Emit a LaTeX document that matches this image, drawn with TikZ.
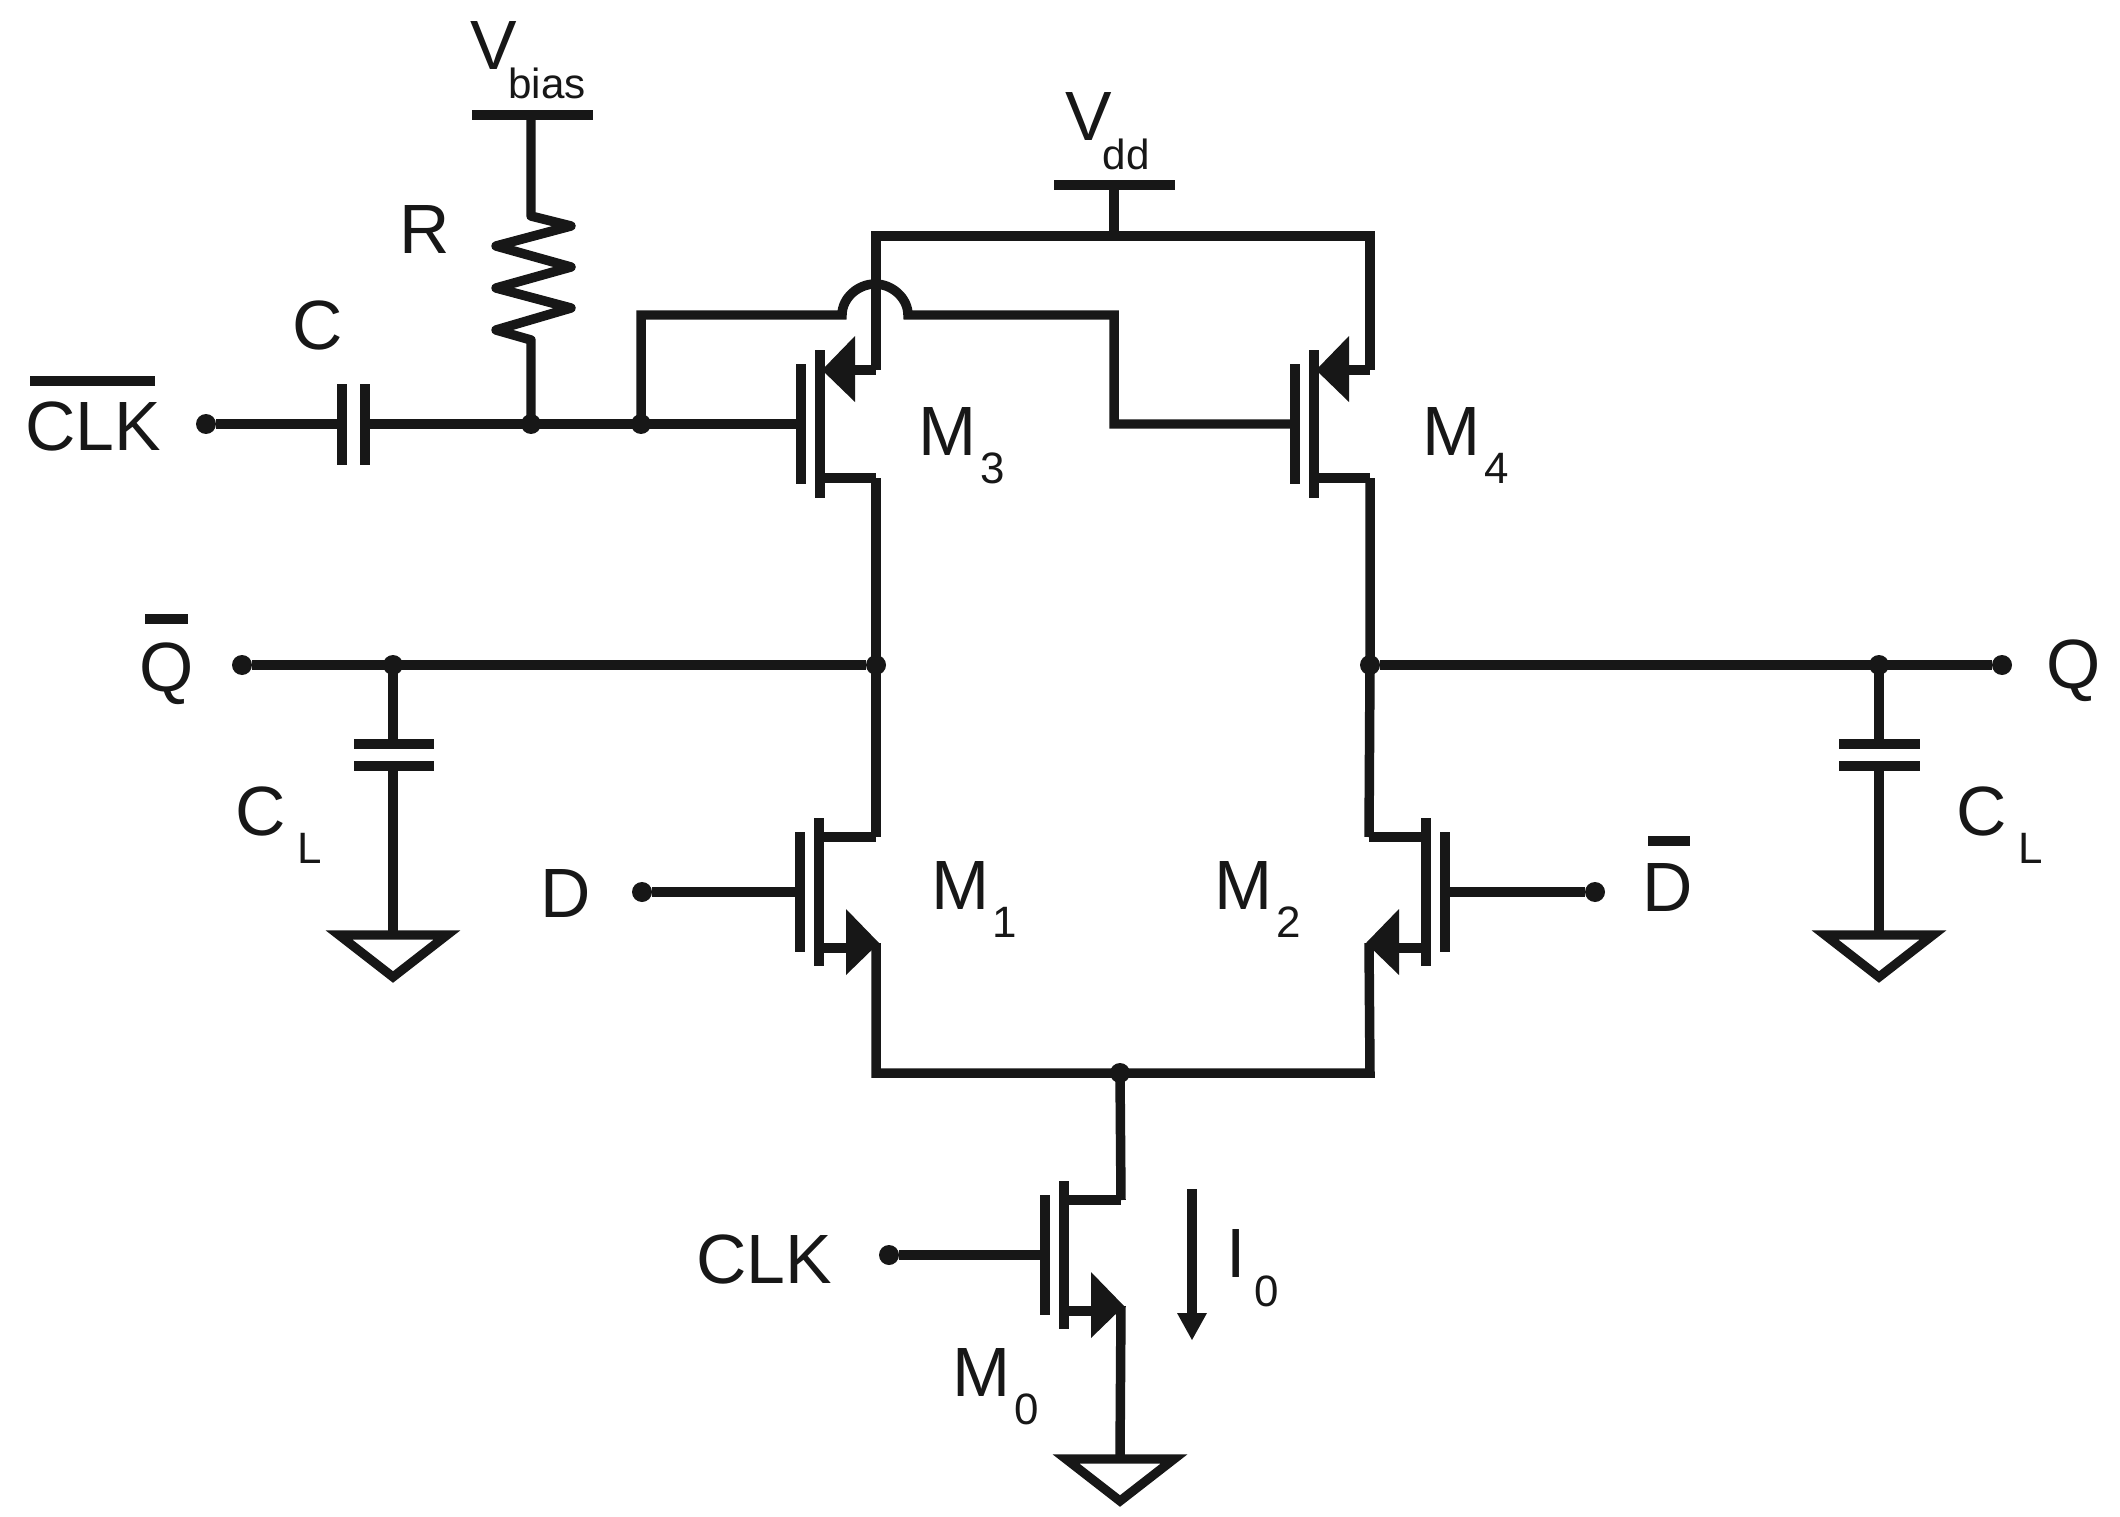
\documentclass[tikz,border=0pt]{standalone}
\usepackage{fontspec}
\setmainfont{Liberation Sans}
\definecolor{ink}{gray}{0.09}
\newcommand{\mainsz}{\fontsize{39.7pt}{44pt}\selectfont}
\newcommand{\lowlab}[4]{#1\kern#3\lower#4\hbox{\fontsize{25pt}{28pt}\selectfont #2}}
\newcommand{\suplab}[3]{#1\kern#3\lower16.4pt\hbox{\fontsize{24pt}{27pt}\selectfont #2}}
\tikzset{
  wire/.style={draw=ink,line width=5.4pt,line join=miter},
  bar/.style={draw=ink,line width=5.4pt},
  plate/.style={draw=ink,line width=5.2pt},
  lab/.style={inner sep=0pt,text=ink,font=\mainsz,anchor=base},
  labw/.style={inner sep=0pt,text=ink,font=\mainsz,anchor=base west},
  dot/.style={circle,fill=ink,draw=none,minimum size=0.4cm,inner sep=0pt,outer sep=0pt},
  head/.style={fill=ink,draw=none},
  pmos/.pic={
    \coordinate (-g) at (-19,0);
    \coordinate (-s) at (56,-54);
    \coordinate (-d) at (56,54);
    \draw[plate] (-19,-60) -- (-19,60);
    \draw[plate] (0,-74) -- (0,74);
    \draw[wire] (0,54) -- (-d);
    \draw[wire] (30,-54) -- (-s);
    \fill[head] (2,-54) -- (35,-88) -- (35,-22) -- cycle;
  },
  nmos/.pic={
    \coordinate (-g) at (-19,0);
    \coordinate (-d) at (57,-55);
    \coordinate (-s) at (57,51);
    \draw[plate] (-19,-60) -- (-19,60);
    \draw[plate] (0,-74) -- (0,74);
    \draw[wire] (0,-55) -- (-d);
    \draw[wire] (0,56) -- (30,56);
    \fill[head] (60,51) -- (27,17) -- (27,83) -- cycle;
  },
  gnd/.pic={
    \coordinate (-t) at (0,0);
    \draw[draw=ink,line width=5.2pt,line join=miter] (-54,3) -- (54,3) -- (0,45) -- cycle;
  }
}
\begin{document}
\begin{tikzpicture}[x=0.02cm,y=-0.02cm]
\useasboundingbox (0,0) rectangle (2120,1517);
\fill[white] (0,0) rectangle (2120,1517);

% transistors
\pic (m3) at (820,424) {pmos};
\pic (m4) at (1314,424) {pmos};
\pic (m1) at (819,892) {nmos};
\pic[xscale=-1] (m2) at (1426,892) {nmos};
\pic (m0) at (1064,1255) {nmos};

% grounds
\pic (g1) at (393,932) {gnd};
\pic (g2) at (1879,932) {gnd};
\pic (g0) at (1120,1456) {gnd};

% junction and terminal dots
\node[dot] (clkbin) at (206,424) {};
\node[dot] (nr) at (531,424) {};
\node[dot] (nfb) at (641,424) {};
\node[dot] (qbin) at (242,665) {};
\node[dot] (ncl) at (393,665) {};
\node[dot] (nl) at (876,665) {};
\node[dot] (nrt) at (1370,665) {};
\node[dot] (ncr) at (1879,665) {};
\node[dot] (qin) at (2002,665) {};
\node[dot] (din) at (642,892) {};
\node[dot] (dbin) at (1595,892) {};
\node[dot] (ntail) at (1120,1073) {};
\node[dot] (clkin) at (889,1255) {};

% named routing points
\coordinate (vb) at (531,115);
\coordinate (vbl) at (472,115);
\coordinate (vbr) at (593,115);
\coordinate (vd) at (1114,185);
\coordinate (vdl) at (1054,185);
\coordinate (vdr) at (1175,185);
\coordinate (rl) at (876,236);
\coordinate (rm) at (1114,236);
\coordinate (rr) at (1370,236);
\coordinate (c1t) at (342,384);
\coordinate (c1b) at (342,465);
\coordinate (c2t) at (365,384);
\coordinate (c2b) at (365,465);
\coordinate (c1m) at (342,424);
\coordinate (c2m) at (365,424);
\coordinate (fb) at (641,315);
\coordinate (hl) at (842,315);
\coordinate (hr) at (908,315);
\coordinate (gb) at (1114,315);
\coordinate (gc) at (1114,424);
\coordinate (tl) at (876,1073);
\coordinate (tr) at (1370,1073);
\coordinate (lt) at (393,744);
\coordinate (lb) at (393,766);
\coordinate (ltl) at (354,744);
\coordinate (ltr) at (434,744);
\coordinate (lbl) at (354,766);
\coordinate (lbr) at (434,766);
\coordinate (rt) at (1879,744);
\coordinate (rb) at (1879,766);
\coordinate (rtl) at (1839,744);
\coordinate (rtr) at (1920,744);
\coordinate (rbl) at (1839,766);
\coordinate (rbr) at (1920,766);

% supply
\draw[bar] (vbl) -- (vbr);
\draw[bar] (vdl) -- (vdr);
\draw[wire] (vd) -- (rm);
\draw[wire] (m3-s) -- (rl) -- (rr) -- (m4-s);

% resistor
\draw[wire,line join=round] (vb) -- (531,216) -- (571,226) -- (496,246) -- (571,267) -- (496,288) -- (571,308) -- (496,330) -- (531,340) -- (nr.center);

% clock-bar input and capacitor
\draw[wire] (clkbin) -- (c1m);
\draw[plate] (c1t) -- (c1b);
\draw[plate] (c2t) -- (c2b);
\draw[wire] (c2m) -- (nr.center) -- (nfb.center) -- (m3-g);

% gate cross link with hop
\draw[wire] (nfb.center) -- (fb) -- (hl) .. controls (842,298) and (858,284) .. (875,284) .. controls (892,284) and (908,298) .. (hr) -- (gb) -- (gc) -- (m4-g);

% outputs and branches
\draw[wire] (m3-d) -- (nl.center) -- (m1-d);
\draw[wire] (m4-d) -- (nrt.center) -- (m2-d);
\draw[wire] (qbin) -- (nl);
\draw[wire] (nrt) -- (qin);
\draw[wire] (m1-s) -- (tl) -- (tr) -- (m2-s);
\draw[wire] (ntail.center) -- (m0-d);
\draw[wire] (m0-s) -- (g0-t);
\draw[wire] (din) -- (m1-g);
\draw[wire] (dbin) -- (m2-g);
\draw[wire] (clkin) -- (m0-g);

% load capacitors
\draw[wire] (ncl.center) -- (lt);
\draw[bar] (ltl) -- (ltr);
\draw[bar] (lbl) -- (lbr);
\draw[wire] (lb) -- (g1-t);
\draw[wire] (ncr.center) -- (rt);
\draw[bar] (rtl) -- (rtr);
\draw[bar] (rbl) -- (rbr);
\draw[wire] (rb) -- (g2-t);

% current arrow
\coordinate (ia) at (1192,1189);
\coordinate (ib) at (1192,1316);
\draw[plate] (ia) -- (ib);
\fill[head] (1192,1340) -- (1177,1313) -- (1207,1313) -- cycle;

% labels
\node[labw] (tvbias) at (470,70) {\suplab{V}{bias}{-4.8pt}};
\node[labw] (tvdd) at (1065,141) {\suplab{V}{dd}{-5.2pt}};
\node[lab] (tr1) at (425,254) {R};
\node[lab] (tc1) at (318,349) {C};
\node[lab] (tclkb) at (93,450) {CLK};
\node[lab] (tqb) at (167,691) {Q};
\node[lab] (tq) at (2074,688) {Q};
\node[lab] (td) at (566,917) {D};
\node[lab] (tdb) at (1668,911) {D};
\node[lab] (tclk) at (764,1283) {CLK};
\node[labw] (tm3) at (918,455) {\lowlab{M}{3}{2.3pt}{16pt}};
\node[labw] (tm4) at (1422,455) {\lowlab{M}{4}{2.3pt}{16pt}};
\node[labw] (tm1) at (931,909) {\lowlab{M}{1}{2pt}{16pt}};
\node[labw] (tm2) at (1214,909) {\lowlab{M}{2}{2.3pt}{16pt}};
\node[labw] (tm0) at (952,1396) {\lowlab{M}{0}{2.3pt}{16pt}};
\node[labw] (ti0) at (1226,1277) {\lowlab{I}{0}{5pt}{17pt}};
\node[labw] (tcl1) at (235,835) {\lowlab{C}{L}{6.5pt}{16pt}};
\node[labw] (tcl2) at (1956,835) {\lowlab{C}{L}{6.5pt}{16pt}};

% overbars
\coordinate (o1a) at (30,381);
\coordinate (o1b) at (155,381);
\coordinate (o2a) at (145,619);
\coordinate (o2b) at (188,619);
\coordinate (o3a) at (1648,841);
\coordinate (o3b) at (1690,841);
\draw[bar] (o1a) -- (o1b);
\draw[bar] (o2a) -- (o2b);
\draw[bar] (o3a) -- (o3b);
\end{tikzpicture}
\end{document}
